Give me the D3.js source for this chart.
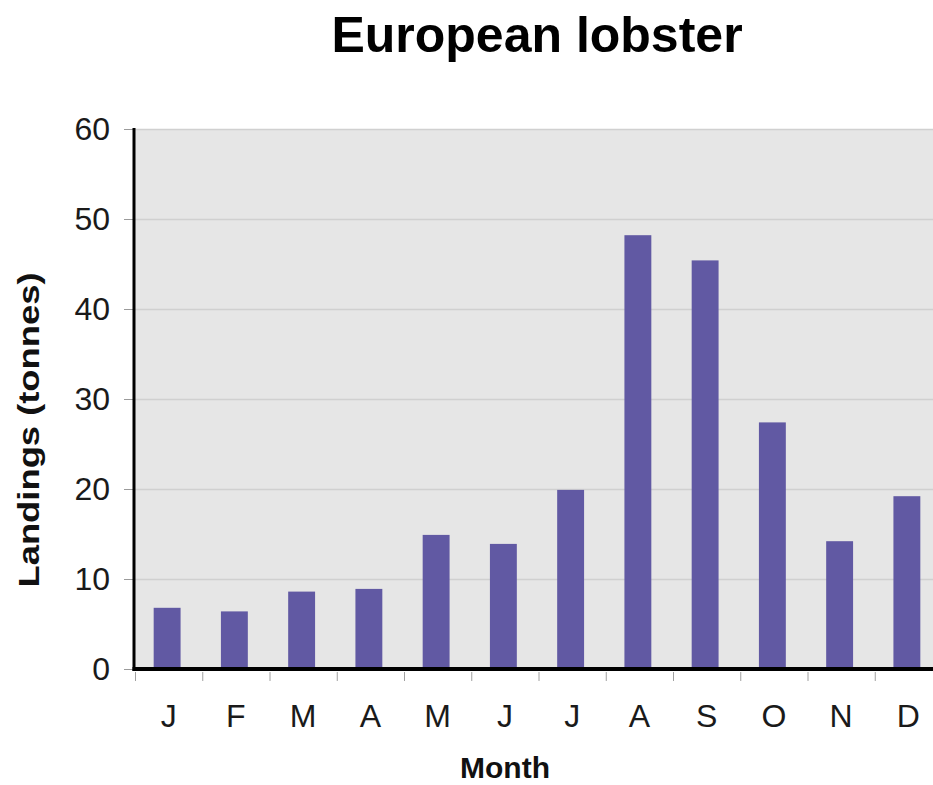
<!DOCTYPE html>
<html>
<head>
<meta charset="utf-8">
<script src="https://cdn.jsdelivr.net/npm/d3@7"></script>
<style>
  html, body { margin: 0; padding: 0; background: #ffffff; }
  svg { display: block; font-family: "Liberation Sans", Arial, Helvetica, sans-serif; }
</style>
</head>
<body>
<svg id="chart" width="933" height="785"></svg>
<script>
const months = ["Jan","Feb","Mar","Apr","May","Jun","Jul","Aug","Sep","Oct","Nov","Dec"];
const monthLabels = ["J","F","M","A","M","J","J","A","S","O","N","D"];
const landings = [6.8, 6.4, 8.6, 8.9, 14.9, 13.9, 19.9, 48.2, 45.4, 27.4, 14.2, 19.2];
const yTicks = [0, 10, 20, 30, 40, 50, 60];
const titleText = "European lobster";
const xTitle = "Month";
const yTitle = "Landings (tonnes)";

const svg = d3.select("#chart");
const W = 933, H = 785;
const plot = { left: 134, right: 942, top: 129, bottom: 669 };

const x = d3.scaleBand().domain(months).range([135, plot.right]).padding(0);
const y = d3.scaleLinear().domain([0, 60]).range([plot.bottom, plot.top]);
const labelOf = d3.scaleOrdinal().domain(months).range(monthLabels);

// plot background
svg.append("rect")
  .attr("x", plot.left).attr("y", y(60))
  .attr("width", W - plot.left).attr("height", y(0) - y(60))
  .attr("fill", "#e6e6e6");

// gridlines
svg.append("g").selectAll("line").data(yTicks.filter(d => d > 0)).join("line")
  .attr("x1", plot.left).attr("x2", W)
  .attr("y1", d => y(d) + 0.5).attr("y2", d => y(d) + 0.5)
  .attr("stroke", "#d0d0d0").attr("stroke-width", 1.5);

// bars
const bw = x.bandwidth() * 0.4;
svg.append("g").selectAll("rect").data(months).join("rect")
  .attr("x", (d) => x(d) + (x.bandwidth() - bw) / 2 - 1.5)
  .attr("width", bw)
  .attr("y", (d, i) => y(landings[i]))
  .attr("height", (d, i) => y(0) - y(landings[i]))
  .attr("fill", "#6159a3");

// y axis
const yAxis = svg.append("g")
  .attr("transform", `translate(${plot.left},0)`)
  .call(d3.axisLeft(y).tickValues(yTicks).tickSize(10).tickPadding(14));
yAxis.select(".domain").remove();
yAxis.selectAll(".tick line").attr("stroke", "#9a9a9a").attr("stroke-width", 1);
yAxis.selectAll(".tick text")
  .attr("font-size", 32).attr("fill", "#1a1a1a")
  .attr("font-family", "'Liberation Sans', Arial, sans-serif");

// x tick marks at band boundaries
svg.append("g").selectAll("line").data(months).join("line")
  .attr("x1", d => x(d) + 0.5).attr("x2", d => x(d) + 0.5)
  .attr("y1", plot.bottom + 3).attr("y2", plot.bottom + 12)
  .attr("stroke", "#a0a0a0").attr("stroke-width", 1);

// x axis labels
const xAxis = svg.append("g")
  .attr("transform", `translate(0,${plot.bottom})`)
  .call(d3.axisBottom(x).tickSize(0).tickPadding(35).tickFormat(d => labelOf(d)));
xAxis.select(".domain").remove();
xAxis.selectAll(".tick text")
  .attr("font-size", 32).attr("fill", "#1a1a1a")
  .attr("font-family", "'Liberation Sans', Arial, sans-serif");

// axis lines
svg.append("line")
  .attr("x1", plot.left).attr("x2", plot.left)
  .attr("y1", y(60) - 1).attr("y2", y(0) + 2)
  .attr("stroke", "#000").attr("stroke-width", 3);
svg.append("line")
  .attr("x1", plot.left - 1.5).attr("x2", W)
  .attr("y1", y(0)).attr("y2", y(0))
  .attr("stroke", "#000").attr("stroke-width", 4);

// title
svg.append("text")
  .attr("x", 537).attr("y", 52)
  .attr("text-anchor", "middle")
  .attr("font-size", 50).attr("font-weight", "bold").attr("fill", "#000")
  .text(titleText);

// x title
svg.append("text")
  .attr("x", 505).attr("y", 778)
  .attr("text-anchor", "middle")
  .attr("font-size", 30).attr("font-weight", "bold").attr("fill", "#111")
  .text(xTitle);

// y title
svg.append("text")
  .attr("transform", "translate(39,430) rotate(-90)")
  .attr("text-anchor", "middle")
  .attr("font-size", 30).attr("font-weight", "bold").attr("fill", "#111")
  .attr("textLength", 315).attr("lengthAdjust", "spacingAndGlyphs")
  .text(yTitle);
</script>
</body>
</html>
